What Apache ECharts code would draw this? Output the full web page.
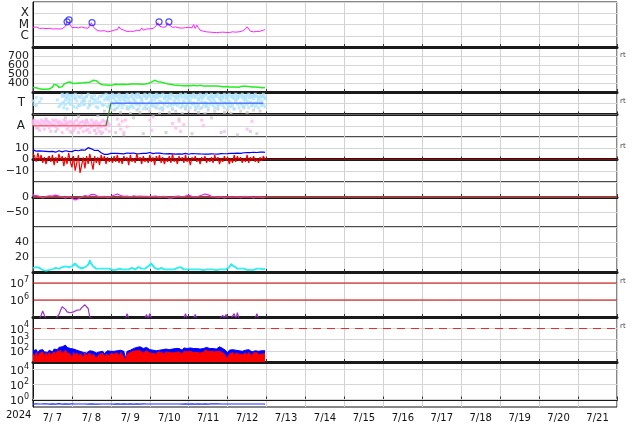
<!DOCTYPE html>
<html><head><meta charset="utf-8">
<script src="https://cdn.jsdelivr.net/npm/echarts@6/dist/echarts.min.js"></script>
<style>html,body{margin:0;padding:0;background:#fff}#c{width:634px;height:424px}</style>
</head><body><div id="c"></div>
<script>
// ---- categories / tick labels ----
const dayLabels = ['7/ 7','7/ 8','7/ 9','7/10','7/11','7/12','7/13','7/14','7/15','7/16','7/17','7/18','7/19','7/20','7/21'];
const yearLabel = '2024';
const flareLabels = {'-4':'X','-5':'M','-6':'C'};
const sectorLabels = {'1':'T','-1':'A'};
const electronThresholds = [6, 7];
// ---- data (hourly from 7/7 00:00) ----
const xrayLog = [-5.25,-5.3,-5.22,-5.3,-5.35,-5.28,-5.33,-5.3,-5.36,-5.4,-5.34,-5.37,-5.4,-5.35,-5.38,-5.33,-5.4,-5.36,-5.38,-5.3,
 -5.15,-4.72,-4.6,-5.05,-5.28,-5.32,-5.25,-5.38,-5.3,-5.35,-5.22,-5.36,-5.3,-5.4,-5.33,-5.2,-4.85,-5.15,-5.35,-5.45,
 -5.55,-5.6,-5.58,-5.62,-5.55,-5.6,-5.65,-5.58,-5.6,-5.55,-5.5,-5.58,-5.45,-5.2,-5.4,-5.25,-5.5,-5.6,-5.62,-5.58,
 -5.6,-5.55,-5.62,-5.58,-5.5,-5.35,-5.55,-5.3,-5.5,-5.45,-5.4,-5.35,-5.38,-5.3,-5.35,-5.25,-5.1,-4.85,-5.15,-5.3,
 -5.25,-5.3,-5.2,-4.85,-5.05,-5.2,-5.25,-5.3,-5.22,-5.28,-5.3,-5.25,-5.32,-5.35,-5.28,-5.3,-5.25,-5.15,-5.3,-5.0,
 -5.35,-5.05,-5.3,-5.5,-5.58,-5.6,-5.62,-5.65,-5.6,-5.68,-5.62,-5.7,-5.65,-5.72,-5.68,-5.7,-5.75,-5.68,-5.72,-5.7,
 -5.68,-5.72,-5.7,-5.65,-5.7,-5.68,-5.6,-5.65,-5.62,-5.58,-5.55,-5.4,-5.2,-5.4,-5.6,-5.55,-5.65,-5.6,-5.62,-5.58,
 -5.6,-5.55,-5.5,-5.45];
const flareEvents = [[21,-4.76],[22.2,-4.58],[36.4,-4.84],[77.7,-4.76],[83.8,-4.76]];
const windSpeed = [350,345,348,340,335,332,330,335,330,328,332,338,355,385,398,375,350,340,360,385,
 395,405,390,410,400,395,405,398,408,400,395,402,410,405,400,408,420,430,440,425,
 410,395,388,380,385,378,380,375,382,378,380,385,378,382,380,385,378,383,380,385,
 382,388,385,390,385,388,392,386,390,388,392,395,400,410,420,430,425,415,420,410,
 405,400,395,390,392,385,380,378,382,375,378,372,375,370,374,372,376,370,372,375,
 370,368,372,375,370,368,372,366,370,368,365,368,362,366,360,364,360,358,362,360,
 358,355,360,356,352,355,350,353,358,365,370,365,360,362,358,355,352,356,350,352,
 350,348,352,350];
const sectorAway = [[0,-1],[45,-1]];
const sectorTurn = [[45,-1],[48,1]];
const sectorToward = [[48,1],[142,1]];
const towardPtsA = [1.2,null,0.8,null,null,1.4,null,null,null,null,
 null,null,null,null,null,1.3,null,0.9,1.6,1.1,
 0.9,1.5,1.7,1.3,1.0,0.7,1.4,1.2,0.8,1.5,
 1.1,1.4,0.9,1.6,0.6,1.2,1.5,1.0,1.3,0.7,
 1.4,1.1,1.6,0.8,1.3,1.5,1.3,0.8,1.1,1.5,
 1.7,1.2,0.6,1.4,1.6,0.9,1.3,1.7,1.5,1.1,
 0.7,1.6,1.4,1.2,1.8,1.0,1.5,1.3,0.5,1.6,
 1.4,1.7,1.1,0.8,1.6,1.3,1.5,1.7,1.2,0.6,
 1.0,1.5,1.6,1.3,1.7,1.4,0.9,1.2,1.6,1.5,
 1.3,1.7,0.7,1.1,1.5,1.6,1.4,1.2,1.7,1.0,
 1.5,0.6,1.3,1.6,1.4,1.7,1.1,0.8,1.5,1.3,
 1.6,1.4,1.2,1.7,0.9,1.5,1.3,1.6,1.1,1.4,
 1.7,1.2,0.7,1.5,1.6,1.3,1.4,1.7,1.0,1.5,
 1.3,1.6,1.2,1.5,1.7,0.8,1.4,1.6,1.1,1.3,
 1.5,1.2,1.6,1.4];
const towardPtsB = [null,0.9,null,null,1.1,null,null,null,null,null,
 null,null,null,null,null,null,0.7,null,1.0,0.6,
 1.3,0.5,1.1,0.9,1.6,null,1.5,0.6,null,0.8,
 null,0.9,1.2,1.6,null,0.8,null,1.4,null,1.1,
 0.6,null,1.0,null,0.9,null,0.7,1.4,0.6,1.0,
 0.9,0.5,1.1,0.8,1.0,0.6,0.9,1.2,0.7,0.5,
 1.1,0.8,0.6,1.0,0.9,0.5,0.8,1.1,1.0,0.7,
 0.9,1.0,0.6,1.2,0.8,0.7,1.0,0.9,0.5,1.1,
 0.6,0.9,1.1,0.7,1.0,0.8,0.5,0.9,1.0,0.8,
 1.0,0.6,0.9,1.2,0.7,0.8,1.1,0.6,0.9,1.0,
 0.7,1.0,0.8,0.5,1.1,0.9,0.7,1.0,0.6,0.9,
 1.1,0.8,0.6,1.0,0.7,0.9,1.2,0.8,0.6,1.0,
 0.9,0.7,1.0,0.8,0.5,1.1,0.9,0.6,1.0,0.8,
 0.7,1.0,0.9,0.6,1.1,0.8,1.0,0.7,0.9,0.6,
 1.0,0.8,0.9,0.7];
const towardPtsC = [null,null,1.5,null,null,null,null,null,null,null,
 null,null,null,null,null,null,null,null,1.8,1.7,
 1.6,1.8,1.4,null,1.7,null,1.8,null,1.6,null,
 1.7,null,1.5,null,1.8,null,1.6,null,1.7,null,
 null,1.6,null,1.7,null,1.8,1.5,1.7,1.6,1.8,
 1.4,1.7,1.6,1.8,1.3,1.7,1.5,1.6,1.8,1.4,
 1.6,1.8,1.3,1.7,1.5,1.8,1.6,1.4,1.7,1.8,
 1.5,1.6,1.8,1.4,1.7,1.6,1.8,1.5,1.7,1.6,
 1.8,1.4,1.7,1.6,1.5,1.8,1.7,1.6,1.4,1.7,
 1.6,1.8,1.5,1.7,1.8,1.4,1.6,1.7,1.5,1.8,
 1.6,1.7,1.4,1.8,1.6,1.5,1.7,1.8,1.4,1.6,
 1.8,1.5,1.7,1.6,1.8,1.4,1.7,1.5,1.8,1.6,
 1.5,1.8,1.6,1.7,1.4,1.8,1.6,1.5,1.7,1.8,
 1.6,1.4,1.7,1.8,1.5,1.6,1.7,1.8,1.6,1.5,
 1.7,1.6,1.8,1.5];
const awayPtsA = [-0.6,-0.9,-0.7,-1.1,-0.8,-0.5,-1.0,-0.7,-0.9,-0.6,
 -1.2,-0.8,-0.5,-0.9,-1.1,-0.7,-0.6,-1.0,-0.8,-0.5,
 -0.9,-1.3,-0.7,-0.6,-1.0,-0.8,-1.2,-0.5,-0.9,-0.7,
 -1.1,-0.6,-0.8,-1.4,-0.7,-0.9,-0.5,-1.0,-0.8,-0.6,
 -1.2,-0.9,-0.7,-0.5,-1.0,-0.8,-0.6,-0.9];
const awayPtsB = [-0.8,-0.5,-1.2,-0.6,-1.4,-0.9,-0.6,-1.3,-0.5,-1.0,
 -0.7,-1.5,-1.0,-0.6,-0.5,-1.3,-0.9,-0.7,-1.6,-1.0,
 -0.6,-0.8,-1.1,-1.5,-0.7,-1.4,-0.6,-1.0,-1.6,-1.2,
 -0.7,-1.5,-1.0,-0.6,-1.3,-1.6,-1.1,-0.7,-1.4,-1.7,
 -0.8,-1.5,-1.1,-1.6,-0.6,-1.3,-1.0,-1.5];
const awayPtsLate = [[52,-0.4],[53,-0.9],[54,-1.3],[55,-0.6],[56,-1.6],[57,-0.5],[58,-1.1],[72,-0.5],[73,-1.4],[86,-0.8],[88,-1.2],[90,-0.6],[91,-1.5],[93,-0.9],[104,-0.5],[105,-1.0],[118,-1.5],[132,-1.3],[135,-0.6]];
const neutralPts = [[3,-1.2],[8,-0.4],[14,-1.5],[20,-0.3],[24,-1.6],[28,-0.2],[31,1.2],[33,-0.5],[35,0.9],[38,-1.4],[40,-0.1],[42,-1.7],[44,0.3],[46,-0.8],[50,0.4],[51,-1.6],[54,0.2],[56,-1.8],[58,0.5],[60,0.1],[62,-0.3],[64,0.4],[66,0.2],[68,-1.7],[70,0.5],[72,0.3],[74,-0.2],[76,0.6],[78,0.1],[80,0.4],[82,-1.6],[84,0.2],[86,0.5],[88,0.3],[90,-0.4],[92,0.1],[94,0.5],[96,0.3],[98,-1.7],[100,0.4],[102,0.2],[104,0.6],[106,0.1],[108,0.4],[110,-0.3],[112,0.3],[114,0.5],[116,-1.6],[118,0.2],[120,0.4],[122,0.1],[124,0.5],[126,-1.8],[128,0.3],[130,0.6],[132,0.2],[134,-1.5],[136,0.4],[138,-1.7],[140,0.3]];
const imfBt = [8.5,7.8,7.5,7.2,7.6,7.0,7.4,7.8,7.2,7.5,7.0,6.8,7.2,7.5,6.5,7.0,7.8,7.2,6.8,7.5,
 7.8,8.0,7.2,7.6,7.0,7.5,8.2,7.4,7.8,8.0,8.5,7.8,8.2,9.0,10.5,11.0,9.5,8.5,8.0,8.8,
 8.2,7.5,6.0,5.0,4.5,4.0,4.5,5.0,5.5,5.2,5.5,6.0,5.4,5.8,5.2,5.6,5.0,5.5,5.8,6.0,
 5.5,5.2,5.8,5.4,5.0,5.6,5.2,5.8,5.5,5.0,5.4,5.8,6.2,5.6,5.2,5.5,5.8,5.3,5.6,5.0,
 5.2,5.5,5.0,4.8,5.2,5.4,5.0,5.3,4.8,5.1,5.0,5.3,4.8,5.2,5.5,5.0,4.7,5.0,5.3,4.9,
 5.1,4.8,5.0,4.6,4.9,5.2,4.8,5.0,4.7,4.9,5.0,4.7,4.9,5.2,4.8,5.0,5.3,4.9,5.1,5.4,
 5.2,5.0,5.4,5.1,5.5,5.3,5.6,5.8,5.4,5.7,6.0,5.8,6.2,6.5,6.2,6.0,6.3,6.6,6.2,6.4,
 6.5,6.2,6.6,6.4];
const imfBz = [5,3,-2,6,-1,4,-3,2,-4,1,3,-2,4,-5,2,-3,5,-1,3,-6,
 2,-4,6,-2,-7,3,-10,-3,4,-12,-5,2,-8,3,-4,5,-2,-9,3,-3,
 2,-5,4,-1,3,-4,2,-2,1,-3,3,-2,4,-3,1,-4,3,-1,2,-5,
 4,-2,1,-3,5,-1,2,-4,3,-2,1,-3,4,-2,2,-5,3,-1,4,-3,
 2,-4,1,-2,3,-3,5,-2,1,-4,3,-1,2,-3,4,-2,1,-5,2,-1,
 3,-2,1,-4,2,-1,3,-3,1,-2,2,-3,4,-1,2,-4,1,-2,3,-1,
 2,-4,1,-3,4,-2,3,-1,2,-3,1,-2,4,-3,2,-1,3,-2,1,-3,
 2,-1,3,0];
const dstIndex = [6,7,5,4,2,0,-3,-2,1,3,4,5,3,4,6,5,3,2,0,-2,
 -3,-1,2,0,-4,-8,-10,-9,-6,-3,0,3,5,4,2,6,9,11,8,4,
 2,0,1,3,2,0,-2,-1,2,4,6,9,10,8,5,3,2,4,3,1,
 0,2,4,3,2,1,3,4,2,0,2,3,1,0,2,4,3,1,-1,0,
 2,3,1,-2,-4,-5,-3,-1,2,4,3,2,0,1,3,5,6,4,2,1,
 0,-1,2,4,6,8,10,9,7,4,2,0,1,-1,-2,0,1,-1,-3,-2,
 0,1,-1,-2,0,2,1,-1,-2,0,2,3,1,-1,0,-2,-3,-1,0,-2,
 -1,-3,-2,-1];
const densityA = [6,8,7,5,6,4,3,2.5,2,2.5,3,3.5,4,5,6,5,4.5,6,7,6,
 8,9,7,6,8,10,12,9,7,6,5,6,7,8,11,16,12,8,6,5,
 6,5,4,5,6,5,4,5,4,3,4,3,4,5,3,4,3,4,5,4,
 5,6,5,4,5,7,6,5,4,5,6,8,10,12,9,6,5,4,5,6,
 5,4,3,4,5,4,3,4,5,6,8,7,5,4,3,4,3,4,3,4,
 5,4,3,4,3,2.5,3,4,3,4,3,4,3,2.5,3,4,5,4,3,4,
 5,7,11,10,8,6,5,4,5,6,5,4,3,4,3,4,3,4,5,6,
 5,6,4,5];
const densityB = [5,6,6,4,5,3,2.5,2,1.5,2,2.5,3,3.5,4,5,4,4,5,6,5,
 7,8,6,5,7,9,10,8,6,5,4,5,6,7,9,13,10,7,5,4,
 5,4,3,4,5,4,3,4,3,2.5,3,2.5,3,4,2.5,3,2.5,3,4,3,
 4,5,4,3,4,6,5,4,3,4,5,7,9,10,8,5,4,3,4,5,
 4,3,2.5,3,4,3,2.5,3,4,5,7,6,4,3,2.5,3,2.5,3,2.5,3,
 4,3,2.5,3,2.5,2,2.5,3,2.5,3,2.5,3,2.5,2,2.5,3,4,3,2.5,3,
 4,6,9,8,7,5,4,3,4,5,4,3,2.5,3,2.5,3,2.5,3,4,5,
 4,5,3,4];
const electronLog = [4.9,4.9,4.9,4.9,4.9,5.1,5.35,5.1,4.9,4.9,4.9,4.9,4.9,4.9,4.9,4.9,5.15,5.4,5.6,5.62,
 5.45,5.3,5.35,5.25,5.2,5.3,5.35,5.4,5.5,5.42,5.55,5.65,5.72,5.74,5.5,5.0,4.9,4.9,4.9,4.9,
 4.9,4.9,4.9,4.9,4.9,4.9,4.9,4.9,4.9,4.9,4.9,4.9,4.9,4.9,4.9,4.9,4.9,4.9,5.2,4.9,
 4.9,4.9,4.9,4.9,4.9,4.9,4.9,4.9,4.9,4.9,5.15,4.9,5.2,4.9,4.9,4.9,4.9,4.9,4.9,4.9,
 4.9,4.9,4.9,4.9,4.9,4.9,4.9,4.9,4.9,4.9,4.9,4.9,4.9,4.9,5.2,4.9,4.9,4.9,4.9,4.9,
 5.15,4.9,4.9,4.9,4.9,4.9,4.9,4.9,4.9,4.9,4.9,4.9,4.9,4.9,4.9,4.9,4.9,5.1,4.9,5.15,
 4.9,4.9,4.9,4.9,5.2,4.9,5.25,4.9,4.9,4.9,4.9,4.9,4.9,4.9,4.9,4.9,4.9,4.9,5.2,4.9,
 4.9,4.9,4.9,4.9];
const protonLowLog = [2.0,1.9,2.1,1.8,2.05,1.95,2.1,1.9,2.0,1.85,2.05,2.1,1.9,2.15,2.2,2.1,2.3,2.25,2.35,2.4,
 2.5,2.3,2.45,2.2,2.1,2.15,2.0,2.05,1.9,1.95,2.0,1.85,1.95,1.8,1.9,2.0,1.85,1.95,1.9,1.8,
 1.7,1.9,1.85,1.95,1.75,1.9,2.0,1.85,1.95,1.9,1.95,1.9,2.0,1.85,2.05,1.9,1.95,1.3,1.95,2.0,
 2.05,2.1,2.2,2.15,2.3,2.25,2.35,2.3,2.2,2.25,2.3,2.2,2.1,2.15,2.05,2.1,2.0,2.1,2.05,2.15,
 2.1,2.0,2.15,2.05,2.1,2.2,2.15,2.25,2.2,2.15,2.2,2.1,2.05,2.25,2.15,2.2,2.1,2.25,2.3,2.2,
 2.25,2.2,2.3,2.15,2.25,2.2,2.35,2.3,2.25,2.2,2.3,2.2,2.25,2.15,2.3,2.35,2.25,2.2,2.1,2.0,
 1.8,2.05,2.0,2.1,1.95,2.05,2.1,2.0,2.05,1.95,2.0,2.05,1.95,2.1,2.0,1.9,2.05,2.0,2.1,1.95,
 2.05,2.0,2.1,2.0];
const electronHiLog = [1.7,1.5,1.85,1.4,1.75,1.6,1.9,1.5,1.8,1.55,1.85,1.6,1.5,1.9,1.7,1.95,1.8,2.0,1.75,1.9,
 2.05,1.8,1.95,1.7,1.2,1.85,1.6,1.8,1.5,1.75,1.7,1.45,1.8,1.55,1.65,1.8,1.5,1.7,1.6,1.35,
 1.5,1.7,1.6,1.75,1.4,1.7,1.8,1.55,1.75,1.6,1.7,1.6,1.8,1.5,1.85,1.65,1.7,1.2,1.7,1.8,
 1.85,1.9,1.95,1.8,2.0,1.85,2.0,1.9,1.8,1.95,2.0,1.85,1.8,1.9,1.75,1.85,1.7,1.9,1.75,1.85,
 1.8,1.7,1.9,1.75,1.85,1.9,1.8,1.95,1.85,1.8,1.9,1.75,1.7,1.95,1.8,1.9,1.75,1.95,2.0,1.85,
 1.95,1.85,2.0,1.8,1.95,1.85,2.05,1.9,1.95,1.85,1.95,1.8,1.9,1.75,1.95,2.0,1.9,1.85,1.7,1.5,
 1.3,1.7,1.75,1.85,1.6,1.8,1.85,1.7,1.8,1.65,1.75,1.8,1.6,1.85,1.75,1.55,1.8,1.7,1.85,1.65,
 1.8,1.7,1.85,1.75];
const protonHiLog = [-0.62,-0.6,-0.58,-0.61,-0.6,-0.63,-0.59,-0.6,-0.57,-0.6,-0.61,-0.6,-0.58,-0.6,-0.62,-0.59,-0.56,-0.6,-0.61,-0.6,
 -0.58,-0.6,-0.62,-0.6,-0.59,-0.57,-0.6,-0.61,-0.6,-0.58,-0.6,-0.62,-0.6,-0.59,-0.61,-0.6,-0.58,-0.6,-0.62,-0.6,
 -0.61,-0.59,-0.6,-0.62,-0.6,-0.58,-0.6,-0.61,-0.6,-0.59,-0.62,-0.6,-0.58,-0.6,-0.61,-0.6,-0.59,-0.6,-0.62,-0.6,
 -0.58,-0.6,-0.61,-0.6,-0.59,-0.6,-0.62,-0.6,-0.58,-0.61,-0.6,-0.59,-0.6,-0.62,-0.6,-0.58,-0.6,-0.61,-0.6,-0.59,
 -0.6,-0.62,-0.6,-0.58,-0.6,-0.61,-0.6,-0.59,-0.6,-0.62,-0.6,-0.58,-0.61,-0.6,-0.59,-0.6,-0.62,-0.6,-0.58,-0.6,
 -0.61,-0.6,-0.59,-0.6,-0.62,-0.6,-0.58,-0.6,-0.61,-0.6,-0.59,-0.56,-0.58,-0.6,-0.57,-0.59,-0.6,-0.58,-0.6,-0.61,
 -0.6,-0.59,-0.6,-0.62,-0.6,-0.58,-0.6,-0.61,-0.6,-0.59,-0.6,-0.62,-0.6,-0.58,-0.6,-0.61,-0.6,-0.59,-0.6,-0.62,
 -0.6,-0.58,-0.6,-0.61];
const rtMarks = [56,102,147,282,327];

// ---- build ----
const FONT = 'DejaVu Sans';
const hourly = a => a.map((v,i)=>[i, v]);
const tops = [2,47,92,137,182,227,272,317,362];
const grids = tops.map(t=>({left:33, right:17, top:t, height:45, show:true, borderColor:'#111', borderWidth:1}));
const xAxes = tops.map((t,i)=>({type:'value', gridIndex:i, min:0, max:360, interval:24,
  axisLabel:{show:false}, axisTick:{show:true, inside:true, length:3, lineStyle:{color:'#333'}},
  axisLine:{show:true, lineStyle:{color:'#1a1a1a', width: i===8 ? 2 : 3}},
  splitLine:{show:true, lineStyle:{color:'#d2d2d2', width:1}}}));
xAxes.push({type:'category', gridIndex:8, position:'bottom', data:dayLabels, boundaryGap:true,
  axisLine:{show:false}, axisTick:{show:false}, splitLine:{show:false},
  axisLabel:{fontSize:10, color:'#111', margin:6, interval:0, fontFamily:FONT}});
const sup = v => '{b|10}{s|' + v + '}';
const rich = {b:{fontSize:11, color:'#222', fontFamily:FONT, lineHeight:14, verticalAlign:'bottom'},
              s:{fontSize:8, color:'#222', fontFamily:FONT, lineHeight:8, verticalAlign:'top'}};
const minus = v => v < 0 ? '\u2212' + (-v) : String(v);
function yAx(i, min, max, interval, fmt, extra){
  return Object.assign({type:'value', gridIndex:i, min, max, interval,
    axisLine:{show:true, lineStyle:{color:'#111', width:1}}, axisTick:{show:false},
    axisLabel:{formatter:fmt, color:'#222', fontSize:11, fontFamily:FONT, margin:4, rich},
    splitLine:{show:true, lineStyle:{color:'#d6d6d6', width:1}}}, extra||{});
}
const yAxes = [
  yAx(0,-7,-3,1, null, {axisLabel:{formatter:v=>flareLabels[String(v)]||'', color:'#222', fontSize:12, fontFamily:FONT, margin:4}}),
  yAx(1,300,800,100, v=>(v>300&&v<800)?String(v):''),
  yAx(2,-2,2,1, null, {axisLabel:{formatter:v=>sectorLabels[String(v)]||'', color:'#222', fontSize:12, fontFamily:FONT, margin:8}}),
  yAx(3,-20,20,10, v=>Math.abs(v)<20?minus(v):''),
  yAx(4,-100,50,50, v=>(v===0||v===-50)?minus(v):''),
  yAx(5,0,60,20, v=>(v===20||v===40)?String(v):''),
  yAx(6,5,7.65,1, v=>(v===6||v===7)?sup(v):''),
  yAx(7,1,5,1, v=>(v>=2&&v<=4)?sup(v):''),
  yAx(8,-1,5,1, v=>(v===0||v===2||v===4)?sup(v):'', {splitLine:{show:false}})
];
const line = (gi, data, color, width, extra) => Object.assign({type:'line', xAxisIndex:gi, yAxisIndex:gi, data,
  showSymbol:false, symbol:'none', lineStyle:{color, width}, itemStyle:{color}, animation:false, silent:true, clip:true, z:3}, extra||{});
const pts = (gi, data, color, size) => ({type:'scatter', xAxisIndex:gi, yAxisIndex:gi, data, symbol:'rect', symbolSize:size||3,
  itemStyle:{color}, animation:false, silent:true, z:2});
const ml = (vals, color, width, type) => ({silent:true, symbol:'none', label:{show:false}, animation:false, precision:3,
  lineStyle:{color, width, type:type||'solid'}, data: vals.map(v=>({yAxis:v}))});
const refLine = (gi, vals, color, width, type, z) => ({type:'line', xAxisIndex:gi, yAxisIndex:gi, data:[], z:z||1,
  markLine: ml(vals, color, width, type), animation:false, silent:true});
// a horizontal threshold line spanning the whole time axis at value v
const hLine = (gi, v, color, width) => line(gi, [[0, v], [360, v]], color, width, {z:2});

const series = [
  line(0, hourly(xrayLog), '#ff22ff', 1),
  {type:'scatter', xAxisIndex:0, yAxisIndex:0, data:flareEvents, symbol:'circle', symbolSize:6,
   itemStyle:{color:'rgba(255,255,255,0)', borderColor:'#2222ff', borderWidth:1.2}, animation:false, silent:true, z:5},
  line(1, hourly(windSpeed), '#22ee22', 1.5),
  refLine(2, [0], '#666666', 1),
  pts(2, neutralPts, '#cccccc'),
  pts(2, hourly(awayPtsA), '#ffb6f2'),
  pts(2, hourly(awayPtsB), '#ffb6f2'),
  pts(2, awayPtsLate, '#ffb6f2'),
  pts(2, hourly(towardPtsA), '#aee4ff'),
  pts(2, hourly(towardPtsB), '#aee4ff'),
  pts(2, hourly(towardPtsC), '#aee4ff'),
  line(2, sectorAway, '#ff4444', 1.2, {z:4}),
  line(2, sectorTurn, '#338833', 1.2, {z:4}),
  line(2, sectorToward, '#5577ff', 1.5, {z:4}),
  refLine(3, [0], '#a00000', 1),
  line(3, hourly(imfBt), '#0000ff', 1.2),
  line(3, hourly(imfBz), '#ff0000', 1.2),
  refLine(4, [0], 'rgba(205,80,80,0.7)', 2),
  line(4, hourly(dstIndex), '#ee22ee', 1.2),
  line(5, hourly(densityA), '#22eeee', 1.2),
  line(5, hourly(densityB), '#22eeee', 1.2),
  hLine(6, electronThresholds[0], '#cc0000', 1),
  hLine(6, electronThresholds[1], '#cc0000', 1),
  line(6, hourly(electronLog), '#9933cc', 1.2),
  line(7, hourly(protonLowLog), '#0000ff', 1, {areaStyle:{color:'#0000ff', opacity:1, origin:'start'}}),
  line(7, hourly(electronHiLog), '#ff0000', 1, {areaStyle:{color:'#ff0000', opacity:1, origin:'start'}}),
  refLine(7, [4], '#e03030', 1.2, [8,6], 5),
  refLine(8, [0,2,4], '#d6d6d6', 1),
  line(8, hourly(protonHiLog), '#2233ff', 1.2)
];

const graphic = [{type:'text', left:6, top:410, style:{text:yearLabel, font:'10px "DejaVu Sans"', fill:'#111'}}]
  .concat(rtMarks.map(y=>({type:'text', left:620, top:y-4, style:{text:'rt', font:'7px "DejaVu Sans"', fill:'#444'}})));

const chart = echarts.init(document.getElementById('c'), null, {renderer:'canvas'});
chart.setOption({backgroundColor:'#fff', animation:false, grid:grids, xAxis:xAxes, yAxis:yAxes, series, graphic});
</script></body></html>
